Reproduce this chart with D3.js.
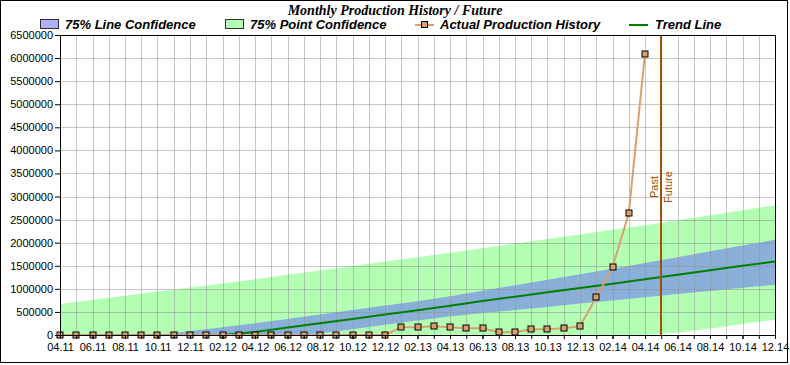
<!DOCTYPE html>
<html>
<head>
<meta charset="utf-8">
<script src="https://cdn.jsdelivr.net/npm/d3@7"></script>
<style>
  body { margin: 0; background: #fff; }
  svg { display: block; font-family: Arial, "Liberation Sans", sans-serif; }
</style>
</head>
<body>
<div id="chart"></div>
<script>
// Tick labels on the x axis, one every two months (04.11 .. 12.14)
const tickLabels = ["04.11", "06.11", "08.11", "10.11", "12.11", "02.12", "04.12", "06.12",
    "08.12", "10.12", "12.12", "02.13", "04.13", "06.13", "08.13", "10.13", "12.13",
    "02.14", "04.14", "06.14", "08.14", "10.14", "12.14"];

// Monthly production, starting 04.11 and ending 04.14
const history = [0, 0, 0, 0, 0, 0, 0, 0, 0, 0, 0, 0, 0, 0, 0, 0, 0, 0, 0, 0, 0,
    167000, 167000, 188000, 167000, 145000, 145000, 58000, 58000, 123000, 123000,
    145000, 188000, 820000, 1465000, 2634000, 6096000];

// Trend and confidence bands, read at every tick label above
const trend = [0, 0, 0, 0, 0, 0, 67000, 161000, 254000, 348000, 442000, 535000,
    635000, 738000, 831000, 925000, 1019000, 1112000, 1207000, 1304000, 1401000, 1498000, 1595000];
const lineUpper = [0, 0, 0, 0, 84000, 167000, 252000, 349000, 445000, 541000, 637000, 733000,
    840000, 960000, 1079000, 1199000, 1318000, 1438000, 1560000, 1686000, 1813000, 1939000, 2065000];
const lineLower = [0, 0, 0, 0, 0, 0, 0, 0, 34000, 127000, 222000, 315000,
    401000, 474000, 539000, 609000, 680000, 750000, 819000, 887000, 955000, 1022000, 1090000];
const pointUpper = [673000, 762000, 851000, 940000, 1029000, 1118000, 1207000, 1303000,
    1399000, 1495000, 1591000, 1687000, 1784000, 1882000, 1981000, 2080000, 2179000,
    2280000, 2379000, 2487000, 2594000, 2701000, 2808000];
const pointLower = [0, 0, 0, 0, 0, 0, 0, 0, 0, 0, 0, 0, 0, 0, 0, 0, 0, 0, 0,
    48000, 143000, 238000, 333000];

const yTicks = d3.range(0, 6500001, 500000);
const pastFutureMonth = 37; // 05.14

const W = 790, H = 365;
const margin = { top: 35, right: 15, bottom: 30, left: 60 },
    width = 775 - margin.left,
    height = 335 - margin.top;

const svg = d3.select("#chart").append("svg")
    .attr("width", W)
    .attr("height", H);

svg.append("rect")
    .attr("x", 0.5).attr("y", 0.5)
    .attr("width", 787).attr("height", 362)
    .attr("fill", "#fff")
    .attr("stroke", "#000");

const g = svg.append("g")
    .attr("transform", `translate(${margin.left},${margin.top})`);

// month index scale
const x = d3.scaleLinear().domain([0, 44]).range([0, width]);
const y = d3.scaleLinear().domain([0, 6500000]).range([height, 0]);

const bandIdx = tickLabels.map((d, i) => i * 2);

// point confidence band
g.append("path")
    .datum(bandIdx)
    .attr("fill", "#b3ffb3")
    .attr("d", d3.area()
        .x(d => x(d))
        .y0((d, i) => y(pointLower[i]))
        .y1((d, i) => y(pointUpper[i])));

// line confidence band
g.append("path")
    .datum(bandIdx)
    .attr("fill", "#8aafd8")
    .attr("d", d3.area()
        .x(d => x(d))
        .y0((d, i) => y(lineLower[i]))
        .y1((d, i) => y(lineUpper[i])));

// grid
const grid = g.append("g").attr("stroke", "#909090").attr("stroke-opacity", 0.5)
    .attr("shape-rendering", "crispEdges");
grid.selectAll(".vg").data(d3.range(1, 44)).enter().append("line")
    .attr("x1", d => Math.round(x(d)) + 0.5).attr("x2", d => Math.round(x(d)) + 0.5)
    .attr("y1", 0).attr("y2", height);
grid.selectAll(".hg").data(yTicks.slice(1, -1)).enter().append("line")
    .attr("x1", 0).attr("x2", width)
    .attr("y1", d => Math.round(y(d)) + 0.5).attr("y2", d => Math.round(y(d)) + 0.5);

// trend line
g.append("path")
    .datum(bandIdx)
    .attr("fill", "none")
    .attr("stroke", "#008000")
    .attr("stroke-width", 2)
    .attr("d", d3.line().x(d => x(d)).y((d, i) => y(trend[i])));

// past / future divider
const px = Math.round(x(pastFutureMonth));
g.append("line")
    .attr("x1", px).attr("x2", px)
    .attr("y1", 0).attr("y2", height)
    .attr("stroke", "#a05000")
    .attr("stroke-width", 2);
g.append("text")
    .attr("transform", `translate(${px - 3},${height / 2 + 2}) rotate(-90)`)
    .attr("text-anchor", "middle")
    .attr("fill", "#a05000")
    .attr("font-size", 11)
    .text("Past");
g.append("text")
    .attr("transform", `translate(${px + 11},${height / 2 + 2}) rotate(-90)`)
    .attr("text-anchor", "middle")
    .attr("fill", "#a05000")
    .attr("font-size", 11)
    .text("Future");

// actual production history
g.append("path")
    .datum(history)
    .attr("fill", "none")
    .attr("stroke", "#d8a070")
    .attr("stroke-width", 2)
    .attr("d", d3.line().x((d, i) => x(i)).y(d => y(d)));

g.selectAll(".pt").data(history).enter().append("rect")
    .attr("class", "pt")
    .attr("x", (d, i) => Math.round(x(i)) - 3)
    .attr("y", d => Math.round(y(d)) - 3)
    .attr("width", 6).attr("height", 6)
    .attr("fill", "#d8a070")
    .attr("stroke", "#000")
    .attr("stroke-width", 1);

// axes
const xAxisMinor = d3.axisBottom(x).tickValues(d3.range(0, 45)).tickFormat("").tickSize(4);
g.append("g")
    .attr("transform", `translate(0,${height})`)
    .call(xAxisMinor)
    .call(s => s.select(".domain").remove());

const xAxis = d3.axisBottom(x)
    .tickValues(bandIdx)
    .tickFormat((d, i) => tickLabels[i])
    .tickSize(4)
    .tickPadding(4);
g.append("g")
    .attr("transform", `translate(0,${height})`)
    .call(xAxis)
    .call(s => s.select(".domain").remove())
    .call(s => s.selectAll("text").attr("font-size", 11).attr("font-family", "Arial, Liberation Sans").attr("fill", "#000"));

const yAxis = d3.axisLeft(y).tickValues(yTicks).tickFormat(d3.format("d")).tickSize(5).tickPadding(2);
g.append("g")
    .call(yAxis)
    .call(s => s.select(".domain").remove())
    .call(s => s.selectAll("text").attr("font-size", 11).attr("font-family", "Arial, Liberation Sans").attr("fill", "#000"));

// plot frame
g.append("rect")
    .attr("x", 0.5).attr("y", 0.5)
    .attr("width", width).attr("height", height)
    .attr("fill", "none")
    .attr("stroke", "#000");

// title
svg.append("text")
    .attr("x", 395).attr("y", 15)
    .attr("text-anchor", "middle")
    .attr("font-family", "'Times New Roman', 'Liberation Serif', serif")
    .attr("font-weight", "bold")
    .attr("font-style", "italic")
    .attr("font-size", 14)
    .text("Monthly Production History / Future");

// legend
const legend = svg.append("g")
    .attr("font-weight", "bold")
    .attr("font-style", "italic")
    .attr("font-size", 13);

legend.append("rect").attr("x", 40.5).attr("y", 19.5).attr("width", 18).attr("height", 9)
    .attr("fill", "#b0b0f8").attr("stroke", "#303030");
legend.append("text").attr("x", 65).attr("y", 29).text("75% Line Confidence");

legend.append("rect").attr("x", 225.5).attr("y", 19.5).attr("width", 18).attr("height", 9)
    .attr("fill", "#b3ffb3").attr("stroke", "#303030");
legend.append("text").attr("x", 250).attr("y", 29).text("75% Point Confidence");

legend.append("line").attr("x1", 415).attr("x2", 434).attr("y1", 25).attr("y2", 25)
    .attr("stroke", "#d8a070").attr("stroke-width", 2);
legend.append("rect").attr("x", 421.5).attr("y", 21.5).attr("width", 6).attr("height", 6)
    .attr("fill", "#d8a070").attr("stroke", "#000");
legend.append("text").attr("x", 440).attr("y", 29).text("Actual Production History");

legend.append("line").attr("x1", 629).attr("x2", 648).attr("y1", 25).attr("y2", 25)
    .attr("stroke", "#008000").attr("stroke-width", 2);
legend.append("text").attr("x", 655).attr("y", 29).text("Trend Line");
</script>
</body>
</html>
